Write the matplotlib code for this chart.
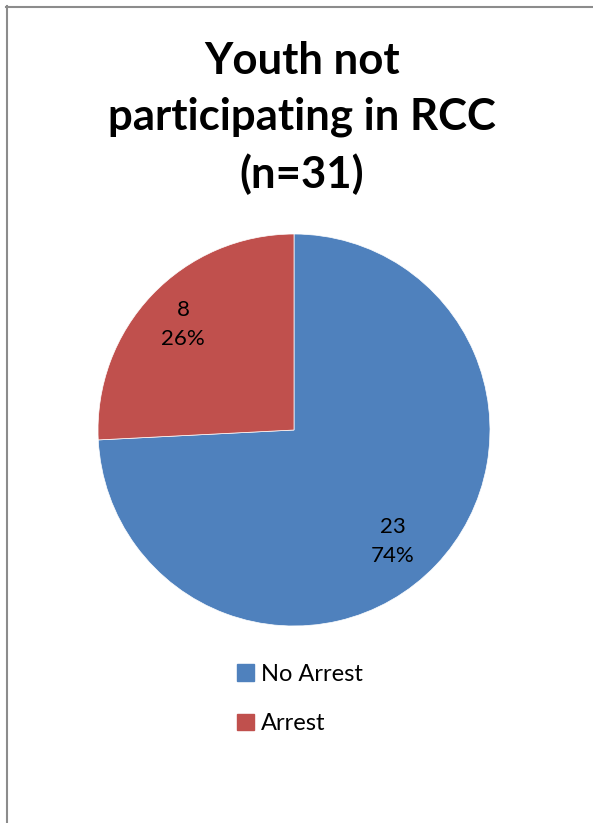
import numpy as np
import matplotlib.pyplot as plt
from matplotlib.lines import Line2D

# data
labels = ['No Arrest', 'Arrest']
counts = [23, 8]
colors = ['#4F81BD', '#C0504D']
title = 'Youth not\nparticipating in RCC\n(n=31)'

plt.rcParams['font.family'] = ['Lato', 'DejaVu Sans']

fig = plt.figure(figsize=(5.93, 8.23), dpi=100)

# pie area: center ~ (294, 430) px, radius ~196 px
cx, cy, r = 294 / 593, 1 - 430 / 823, 196
ax = fig.add_axes([cx - r / 593, cy - r / 823, 2 * r / 593, 2 * r / 823])

total = sum(counts)


def fmt(pct):
    n = int(round(pct * total / 100))
    return f'{n}\n{pct:.0f}%'


wedges, _, autotexts = ax.pie(counts, colors=colors, startangle=90, counterclock=False,
                              autopct=fmt, pctdistance=0.77,
                              wedgeprops=dict(edgecolor='white', linewidth=0.5),
                              textprops=dict(fontsize=16, color='black', linespacing=1.6))
# nudge label placement like Excel's best-fit
for w, t, dist, dang in zip(wedges, autotexts, [0.76, 0.78], [-5, 0]):
    ang = np.deg2rad((w.theta1 + w.theta2) / 2 + dang)
    t.set_position((dist * np.cos(ang), dist * np.sin(ang)))
ax.set_xlim(-1, 1)
ax.set_ylim(-1, 1)
ax.set_aspect('auto')

fig.text(302 / 593, 1 - 118 / 823, title, ha='center', va='center', fontsize=31.5,
         fontweight='bold', linespacing=1.48)

handles = [plt.Rectangle((0, 0), 1, 1, color=c) for c in colors]
fig.legend(handles, labels, loc='center left', bbox_to_anchor=(216 / 593, 1 - 699 / 823),
           frameon=False, fontsize=17, handlelength=0.7, handleheight=0.7,
           handletextpad=0.3, labelspacing=1.2)

# chart border (top and left edges visible)
fig.add_artist(Line2D([6 / 593, 1], [1 - 6.5 / 823, 1 - 6.5 / 823], color='#8c8c8c', lw=1.5))
fig.add_artist(Line2D([6.5 / 593, 6.5 / 593], [0, 1 - 6 / 823], color='#8c8c8c', lw=1.5))

fig.savefig('out.png', dpi=100)
